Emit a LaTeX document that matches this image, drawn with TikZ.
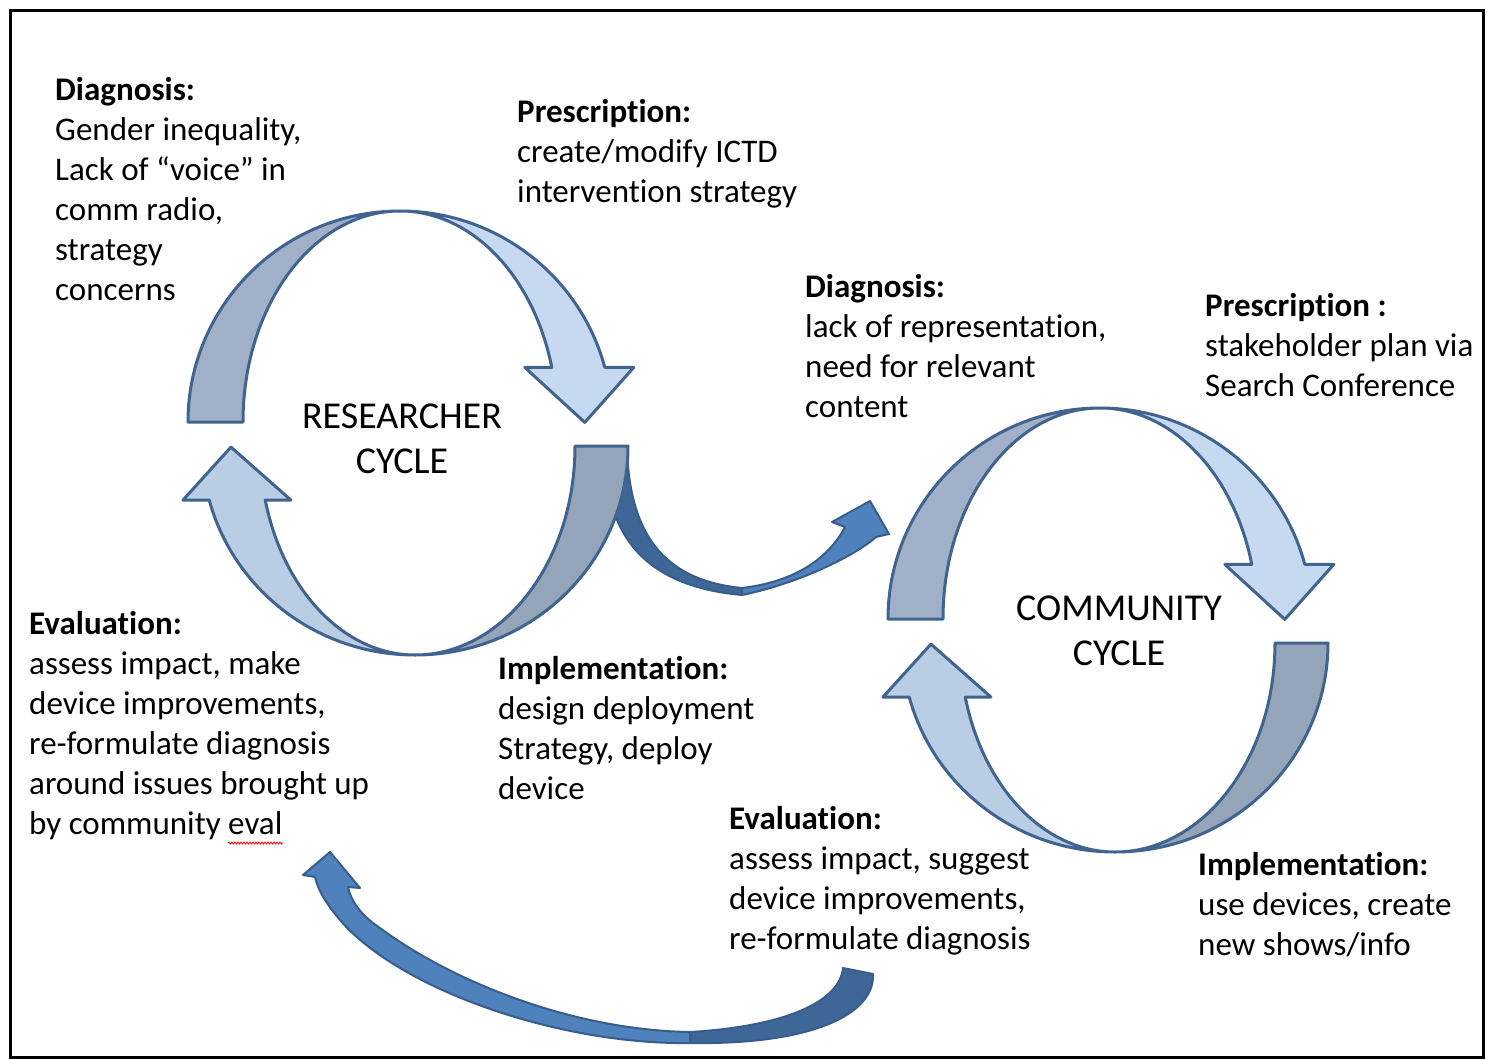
\documentclass[tikz,border=0pt]{standalone}
\usepackage{fontspec}
\setmainfont[Ligatures={TeX,NoCommon}]{Carlito}
\usetikzlibrary{decorations.pathmorphing}

\definecolor{bandback}{HTML}{A0B0C8}
\definecolor{bandfront}{HTML}{C6D9F1}
\definecolor{bandlow}{HTML}{95A5B9}
\definecolor{bandup}{HTML}{B9CDE5}
\definecolor{bandline}{HTML}{41648F}
\definecolor{linkfront}{HTML}{4F81BD}
\definecolor{linkback}{HTML}{3E6797}
\definecolor{linkline}{HTML}{385D8A}

\tikzset{
  band/.style={draw=bandline, line width=3pt, line join=round},
  link/.style={draw=linkline, line width=2pt, line join=round},
  % placed by the baseline of the last line
  stagetext/.style={anchor=base west, align=left, inner sep=0pt, font=\fontsize{33}{40}\selectfont},
  cyclename/.style={align=center, inner sep=0pt, font=\fontsize{38}{45}\selectfont},
}

\begin{document}
\begin{tikzpicture}[x=1pt, y=-1pt]
  \useasboundingbox (0,0) rectangle (1489,1060);
  \draw[line width=2.5pt] (10.5,10.5) rectangle (1483.5,1057.5);

  % researcher -> community, tail runs under the cycle
  \draw[link, fill=linkback] (605,450) .. controls (605,520) and (630,585) .. (742,595)
    -- (742,588) .. controls (660,580) and (630,530) .. (627,450) -- cycle;
  \draw[link, fill=linkfront] (742,588) .. controls (785,583) and (825,565) .. (845,527)
    -- (832,522) -- (870,501) -- (889,534) -- (876,537)
    .. controls (860,552) and (805,582) .. (742,595) -- cycle;

  % community -> researcher
  \draw[link, fill=linkback] (843,968) -- (873,974) .. controls (875,1015) and (810,1045) .. (690,1043)
    -- (690,1032) .. controls (790,1026) and (840,1000) .. (843,968) -- cycle;
  \draw[link, fill=linkfront] (690,1043) .. controls (560,1045) and (400,990) .. (340,920)
    .. controls (325,902) and (318,890) .. (315,877) -- (303,875) -- (330,852) -- (360,888) -- (348,887)
    .. controls (352,905) and (365,918) .. (380,928) .. controls (450,980) and (570,1030) .. (690,1032) -- cycle;

  % the two cycles share one shape
  \foreach \dx/\dy in {0/0, 700/197}{
    \begin{scope}[shift={(\dx,\dy)}]
      % upper half
      \draw[band, fill=bandback] (188,422) arc[start angle=180, end angle=270, x radius=212, y radius=211]
        arc[start angle=270, end angle=180, x radius=157, y radius=211] -- cycle;
      \draw[band, fill=bandfront] (400,211) arc[start angle=270, end angle=345, x radius=212, y radius=211]
        -- ++(29,0) -- ++(-49,55) -- ++(-60,-55) -- ++(27,0)
        arc[start angle=345, end angle=270, x radius=157, y radius=211] -- cycle;
      % lower half
      \draw[band, fill=bandlow] (628,446) arc[start angle=0, end angle=90, x radius=213, y radius=209]
        arc[start angle=90, end angle=0, x radius=160, y radius=209] -- cycle;
      \draw[band, fill=bandup] (415,655) arc[start angle=90, end angle=165, x radius=213, y radius=209]
        -- ++(-26.3,0) -- ++(48,-53) -- ++(60,53) -- ++(-25.7,0)
        arc[start angle=165, end angle=90, x radius=155, y radius=209] -- cycle;
    \end{scope}
  }

  \node[cyclename] (researcher) at (402,439) {RESEARCHER\\CYCLE};
  \node[cyclename] (community) at (1119,631) {COMMUNITY\\CYCLE};

  \node[stagetext] (rdiag) at (55,300) {\textbf{Diagnosis:}\\Gender inequality,\\Lack of “voice” in\\comm radio,\\strategy\\concerns};
  \node[stagetext] (rpres) at (517,202) {\textbf{Prescription:}\\create/modify ICTD\\intervention strategy};
  \node[stagetext] (rimpl) at (498,799) {\textbf{Implementation:}\\design deployment\\Strategy, deploy\\device};
  \node[stagetext] (reval) at (29,834) {\textbf{Evaluation:}\\assess impact, make\\device improvements,\\re-formulate diagnosis\\around issues brought up\\by community eval};
  \node[stagetext] (cdiag) at (805,417) {\textbf{Diagnosis:}\\lack of representation,\\need for relevant\\content};
  \node[stagetext] (cpres) at (1205,396) {\textbf{Prescription :}\\stakeholder plan via\\Search Conference};
  \node[stagetext] (cimpl) at (1198,955) {\textbf{Implementation:}\\use devices, create\\new shows/info};
  \node[stagetext] (ceval) at (729,949) {\textbf{Evaluation:}\\assess impact, suggest\\device improvements,\\re-formulate diagnosis};

  % spell-check squiggle under "eval"
  \draw[red, line width=0.8pt, decorate, decoration={snake, amplitude=1pt, segment length=3pt}] (228,843) -- (283,843);
\end{tikzpicture}
\end{document}
